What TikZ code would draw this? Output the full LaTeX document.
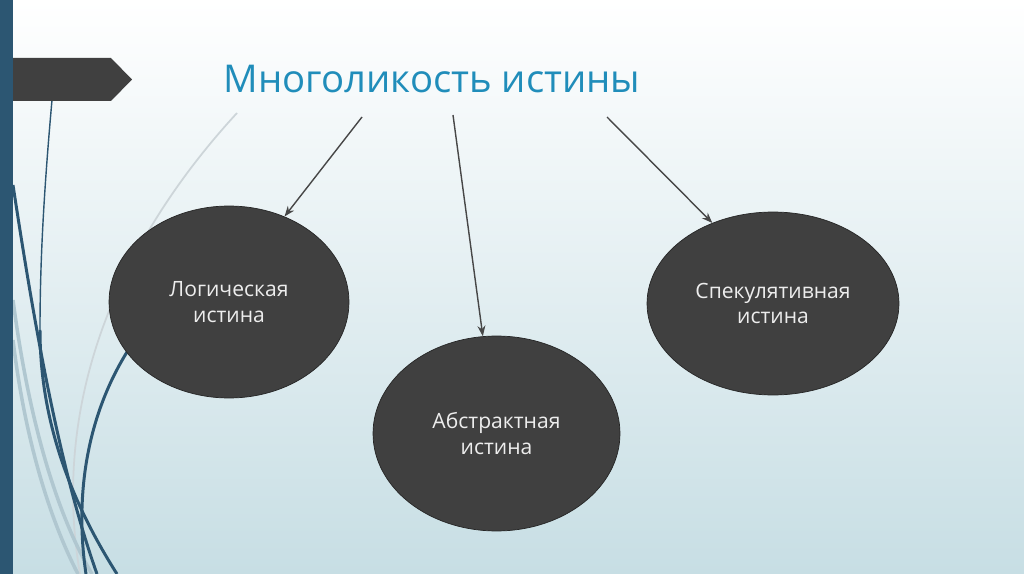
\documentclass[tikz,border=0pt]{standalone}
\usepackage{fontspec}
\setmainfont{Open Sans}
\usetikzlibrary{shapes.geometric, arrows.meta, positioning}

\definecolor{barblue}{RGB}{44,86,114}
\definecolor{titleblue}{RGB}{32,141,186}
\definecolor{ovalgrey}{RGB}{64,64,64}
\definecolor{bgmid}{RGB}{228,238,241}
\definecolor{bgbottom}{RGB}{199,222,228}
\definecolor{paleline}{RGB}{176,199,208}
\definecolor{greyline}{RGB}{205,213,217}

\begin{document}
\begin{tikzpicture}[x=0.02cm, y=-0.02cm, >={Stealth[length=6pt,width=4.5pt]},
    oval/.style={ellipse, draw=black!85, fill=ovalgrey, text=white!93!black,
        align=center, inner sep=0pt, font=\fontsize{12}{14.5}\selectfont},
    link/.style={->, draw=black!72, line width=0.8pt},
    swirl/.style={barblue, line width=1.7pt},
    pale/.style={paleline, line width=2pt}]
        \useasboundingbox (0,0) rectangle (1024,574);
        % Фон слайда
        \shade[top color=white, middle color=bgmid, bottom color=bgbottom] (0,0) rectangle (1024,574);

        % Линии слева
        \draw[greyline, line width=1pt] (237,113) .. controls (120,240) and (50,400) .. (80,574);
        \draw[pale] (13,300) .. controls (30,430) and (60,520) .. (92,574);
        \draw[pale] (13,340) .. controls (25,440) and (50,520) .. (78,574);
        \draw[swirl, line width=0.8pt] (52,100) .. controls (44,190) and (40,260) .. (40,330);
        \draw[swirl] (40,330) .. controls (40,420) and (70,500) .. (117,574);
        \draw[swirl] (13,185) .. controls (35,330) and (60,470) .. (97,574);
        \draw[swirl] (127,352) .. controls (85,420) and (75,500) .. (86,574);

        % Полоса и стрелка-флажок
        \fill[ovalgrey] (0,58) -- (111,58) -- (132,79.5) -- (111,101) -- (0,101) -- cycle;
        \fill[barblue] (0,0) rectangle (12.5,574);

        % Заголовок
        \node[anchor=base, text=titleblue, font=\fontsize{21.8}{25}\selectfont] (title) at (432,93) {Многоликость истины};

        % Овалы
        \node[oval, minimum width=4.8cm, minimum height=3.84cm] (logic) at (229,302) {Логическая\\истина};
        \node[oval, minimum width=4.94cm, minimum height=3.9cm] (abstr) at (496.5,433.5) {Абстрактная\\истина};
        \node[oval, minimum width=5.04cm, minimum height=3.66cm] (specul) at (773,303.5) {Спекулятивная\\истина};

        % Стрелки
        \coordinate (s1) at (362,117);
        \coordinate (s2) at (453,115);
        \coordinate (s3) at (607,117);
        \draw[link] (s1) -- (logic.57);
        \draw[link] (s2) -- (abstr.98);
        \draw[link] (s3) -- (specul.127);
\end{tikzpicture}
\end{document}
